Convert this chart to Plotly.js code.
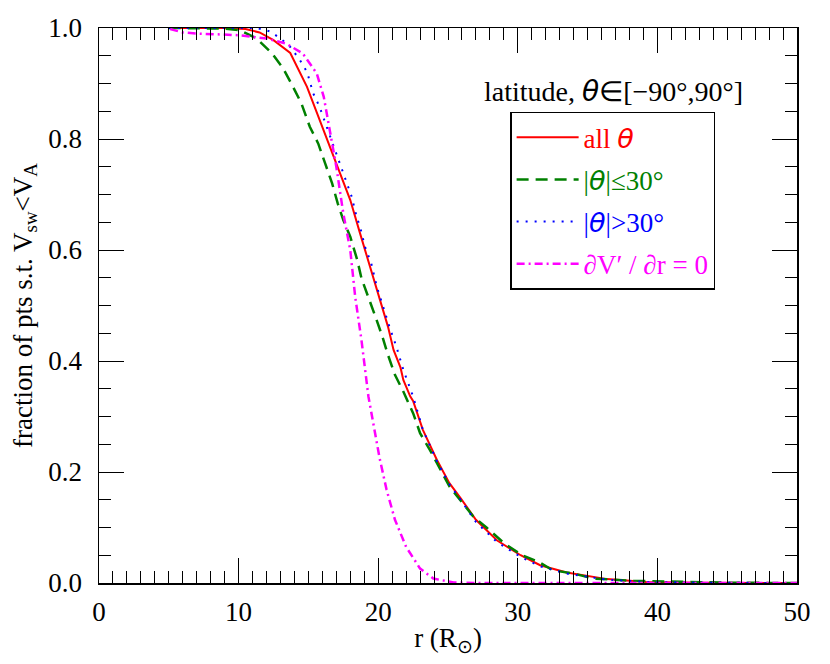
<!DOCTYPE html>
<html>
<head>
<meta charset="utf-8">
<script src="https://cdn.plot.ly/plotly-3.0.1.min.js"></script>
<style>
  body { margin: 0; background: #ffffff; }
  #plot { width: 830px; height: 664px; }
</style>
</head>
<body>
<div id="plot"></div>
<script>

// all theta
const r_all = [5, 9, 10.5, 11.5, 12.5, 13.7, 14.9, 16.1, 17.0, 18.0, 18.7, 19.4, 20.1, 20.7, 21.1,
  21.6, 21.8, 22.3, 22.5, 23.2, 24.2, 25.1, 25.9, 27.0, 28.5, 30.2, 31.6, 33.5, 36.4, 39.2, 43, 50];
const f_all = [1.0, 1.0, 0.998, 0.992, 0.978, 0.955, 0.894, 0.816, 0.756, 0.690, 0.630, 0.570, 0.510, 0.462, 0.420,
  0.388, 0.366, 0.336, 0.328, 0.276, 0.222, 0.180, 0.153, 0.114, 0.077, 0.050, 0.032, 0.019, 0.007, 0.002, 0.0005, 0];

// |theta| <= 30
const r_low = [5, 8.9, 10.1, 11.3, 12.4, 13.2, 13.9, 14.5, 15.1, 15.7, 16.2, 16.7, 17.1, 17.5, 18.0, 18.5,
  18.8, 19.3, 19.8, 20.3, 20.7, 21.2, 21.8, 22.5, 23.0, 23.7, 24.4, 25.1, 26.8, 27.8, 29.0, 30.3, 31.5,
  32.5, 34.0, 35.4, 38.3, 41.1, 45, 50];
const f_low = [1.0, 0.999, 0.996, 0.981, 0.954, 0.927, 0.894, 0.864, 0.822, 0.792, 0.756, 0.720, 0.684, 0.654, 0.624, 0.582,
  0.549, 0.516, 0.480, 0.444, 0.411, 0.375, 0.345, 0.306, 0.270, 0.240, 0.207, 0.174, 0.120, 0.099, 0.072, 0.050, 0.038,
  0.023, 0.017, 0.008, 0.004, 0.002, 0.0005, 0];

// |theta| > 30
const r_high = [5, 11.3, 12.25, 13.0, 13.7, 14.4, 14.9, 15.35, 15.8, 16.4, 17.0, 17.6, 18.1, 18.45, 18.7, 19.05,
  19.5, 19.9, 20.4, 20.8, 21.3, 21.8, 22.5, 23.2, 24.2, 25.1, 25.9, 27.0, 28.5, 30.2, 31.6, 33.5, 36.4, 39.2, 43, 50];
const f_high = [1.0, 1.0, 0.994, 0.981, 0.966, 0.942, 0.921, 0.882, 0.858, 0.816, 0.774, 0.732, 0.696, 0.660, 0.642, 0.606,
  0.576, 0.534, 0.492, 0.462, 0.426, 0.384, 0.336, 0.276, 0.220, 0.178, 0.150, 0.110, 0.074, 0.047, 0.030, 0.017, 0.006, 0.002, 0.0005, 0];

// dV'/dr = 0
const r_dv = [5.1, 6, 7.0, 10.1, 12.0, 13.4, 14.6, 15.6, 16.1, 16.55, 17.0, 17.5, 18.0, 18.35, 18.8, 19.3,
  20.1, 20.6, 21.2, 22.0, 23.0, 23.95, 25.4, 27, 50];
const f_dv = [0.998, 0.992, 0.990, 0.987, 0.981, 0.972, 0.954, 0.918, 0.876, 0.816, 0.750, 0.666, 0.600, 0.516, 0.438, 0.336,
  0.225, 0.168, 0.114, 0.065, 0.026, 0.008, 0.001, 0, 0];

const serif = 'Liberation Serif, Times New Roman, serif';
const th = '<span style="font-family:DejaVu Sans"><i>θ</i></span>';

let traces = [
  {
    x: r_all, y: f_all, name: '<span style="color:#ff0000">all ' + th + '</span>',
    mode: 'lines', line: {color: '#ff0000', width: 2}, legendgroup: 'a'
  },
  {
    x: r_low, y: f_low, name: '<span style="color:#008000">|' + th + '|≤30°</span>',
    mode: 'lines', line: {color: '#008000', width: 2.5, dash: '12px,7px'}, legendgroup: 'b'
  },
  {
    x: r_high, y: f_high, name: '<span style="color:#0000ff">|' + th + '|>30°</span>',
    mode: 'lines', line: {color: '#0000ff', width: 2, dash: '2px,7px'}, legendgroup: 'c'
  },
  {
    x: r_dv, y: f_dv, name: '<span style="color:#ff00ff">∂V′ / ∂r = 0</span>',
    mode: 'lines', line: {color: '#ff00ff', width: 2.5, dash: '8px,4px,2px,4px'}, legendgroup: 'd'
  },
  // empty traces so the tick-only axes get drawn
  {x: [], y: [], xaxis: 'x2', yaxis: 'y2', mode: 'lines', showlegend: false, hoverinfo: 'skip'},
  {x: [], y: [], xaxis: 'x3', yaxis: 'y3', mode: 'lines', showlegend: false, hoverinfo: 'skip'}
];

let axis_common = {
  mirror: 'allticks',
  ticks: 'inside',
  tickcolor: '#000000',
  showgrid: false,
  zeroline: false,
  fixedrange: true,
  tickfont: {family: serif, size: 27, color: '#000000'}
};

// tick-only overlay axis
function tick_axis(over, anchor, side, range, dtick, len) {
  return Object.assign({}, axis_common, {
    overlaying: over, anchor: anchor, side: side, range: range,
    showline: false, showticklabels: false,
    tickmode: 'linear', tick0: 0, dtick: dtick, ticklen: len, tickwidth: 1
  });
}

let layout = {
  width: 830,
  height: 664,
  paper_bgcolor: '#ffffff',
  plot_bgcolor: 'rgba(0,0,0,0)',
  margin: {l: 99, r: 33, t: 28, b: 81},
  font: {family: serif, size: 26, color: '#000000'},
  xaxis: Object.assign({}, axis_common, {
    range: [0, 50],
    showline: true,
    linecolor: '#000000',
    linewidth: 1.5,
    ticks: '',
    tickmode: 'linear',
    tick0: 0,
    dtick: 10,
    ticklabelstandoff: 4,
    title: {text: 'r (R<sub>⊙</sub>)', font: {family: serif, size: 27}, standoff: 2}
  }),
  yaxis: Object.assign({}, axis_common, {
    range: [0, 1],
    showline: true,
    linecolor: '#000000',
    linewidth: 1.5,
    ticks: '',
    tickmode: 'linear',
    tick0: 0,
    dtick: 0.2,
    tickformat: '.1f',
    ticklabelstandoff: 10,
    title: {text: 'fraction of pts s.t. V<sub>sw</sub>&lt;V<sub>A</sub>', font: {family: serif, size: 27}, standoff: 8}
  }),
  // minor ticks
  xaxis2: tick_axis('x', 'y2', 'bottom', [0, 50], 1, 12),
  yaxis2: tick_axis('y', 'x2', 'left', [0, 1], 0.05, 12),
  // major ticks
  xaxis3: tick_axis('x', 'y3', 'bottom', [0, 50], 10, 25),
  yaxis3: tick_axis('y', 'x3', 'left', [0, 1], 0.2, 25),
  showlegend: true,
  legend: {
    x: 0.589, y: 0.849,
    xanchor: 'left', yanchor: 'top',
    bgcolor: '#ffffff',
    bordercolor: '#000000',
    borderwidth: 1.5,
    font: {family: serif, size: 27},
    tracegroupgap: 4,
    itemwidth: 62
  },
  annotations: [
    {
      xref: 'paper', yref: 'paper',
      x: 0.737, y: 0.853,
      xanchor: 'center', yanchor: 'bottom',
      text: 'latitude, ' + th + '∈[−90°,90°]',
      showarrow: false,
      font: {family: serif, size: 28, color: '#000000'}
    }
  ]
};

Plotly.newPlot('plot', traces, layout, {displayModeBar: false, staticPlot: true});

</script>
</body>
</html>
